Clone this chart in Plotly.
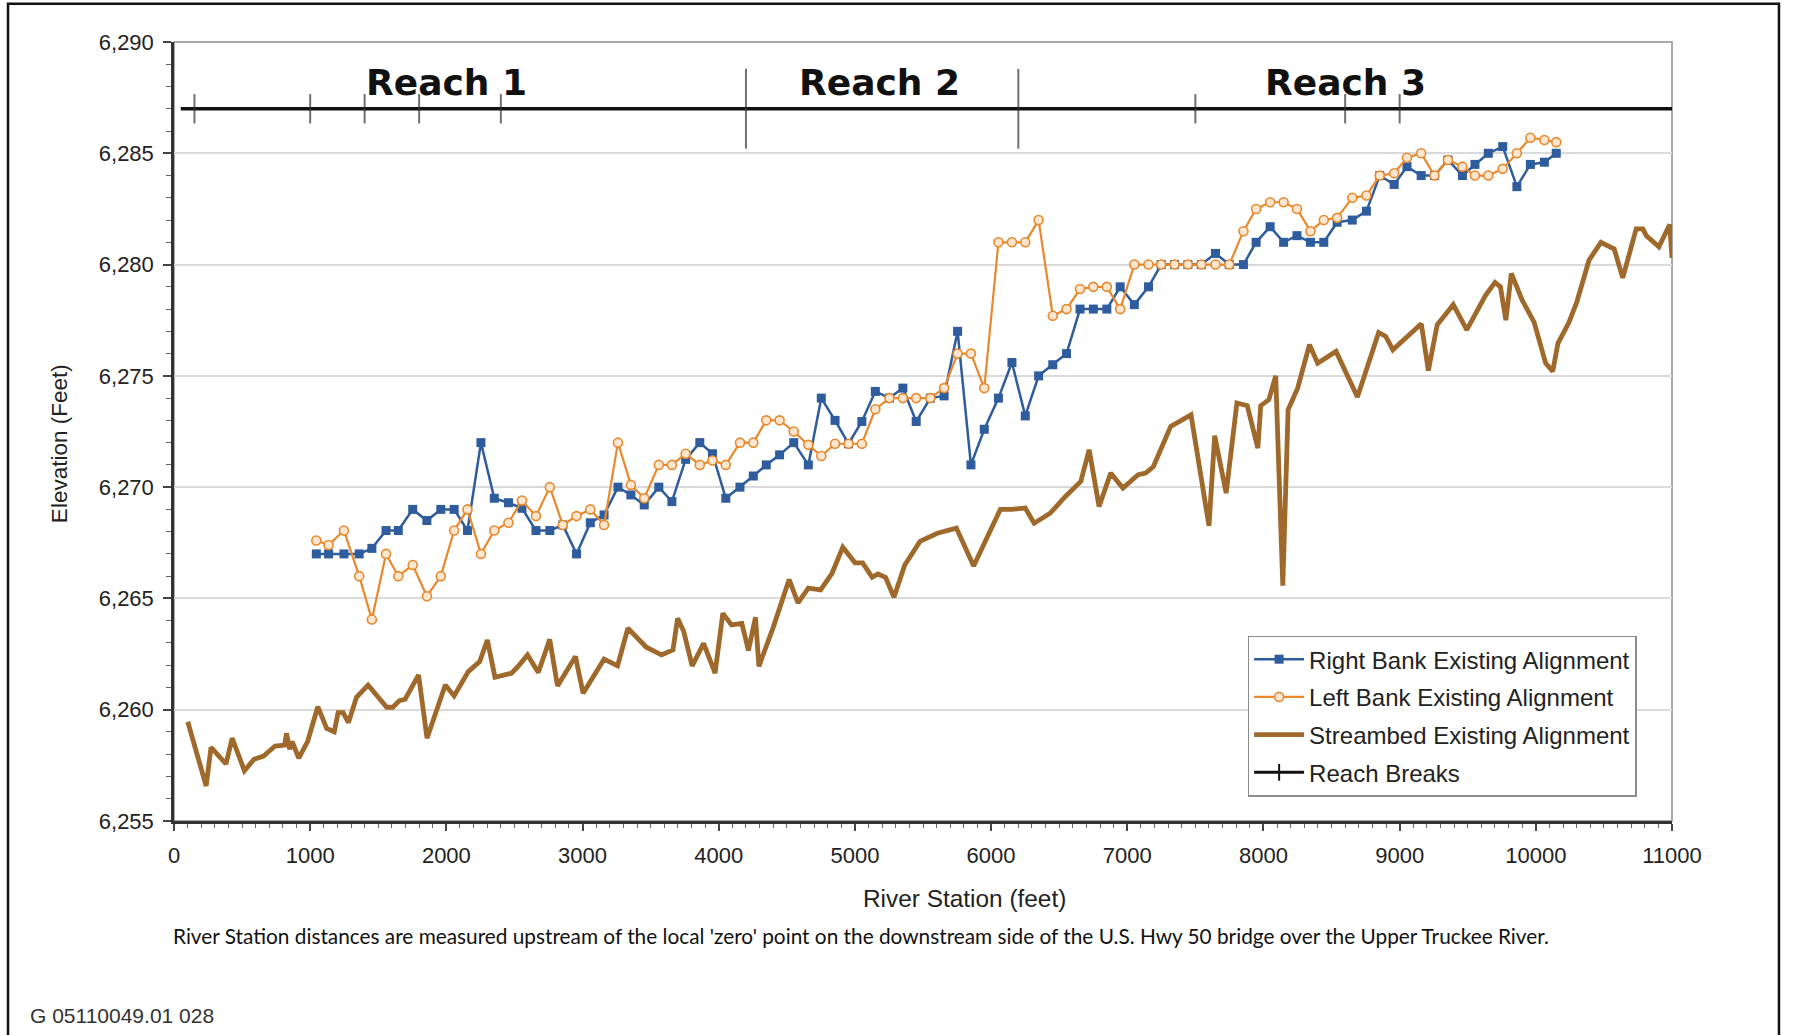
import plotly.graph_objects as go

# River stations (feet) surveyed along both banks
bank_stations = [
    1045, 1135, 1248, 1360, 1453, 1557, 1647, 1753, 1857, 1959,
    2057, 2155, 2254, 2352, 2456, 2555, 2658, 2760, 2855, 2956,
    3057, 3158, 3260, 3355, 3453, 3560, 3656, 3757, 3861, 3954,
    4052, 4156, 4254, 4349, 4447, 4551, 4658, 4753, 4854, 4953,
    5051, 5150, 5254, 5352, 5450, 5554, 5655, 5754, 5852, 5950,
    6054, 6153, 6251, 6349, 6453, 6554, 6653, 6751, 6850, 6948,
    7052, 7156, 7249, 7347, 7445, 7544, 7648, 7749, 7853, 7946,
    8049, 8148, 8246, 8345, 8443, 8541, 8652, 8756, 8854, 8960,
    9054, 9158, 9256, 9355, 9461, 9553, 9651, 9757, 9861, 9960,
    10063, 10150,
]

right_bank = [
    6267.0, 6267.0, 6267.0, 6267.0, 6267.25, 6268.05, 6268.05, 6269.0, 6268.5, 6269.0,
    6269.0, 6268.05, 6272.0, 6269.5, 6269.3, 6269.05, 6268.05, 6268.05, 6268.3, 6267.0,
    6268.4, 6268.75, 6270.0, 6269.65, 6269.2, 6270.0, 6269.35, 6271.25, 6272.0, 6271.5,
    6269.5, 6270.0, 6270.5, 6271.0, 6271.45, 6272.0, 6271.0, 6274.0, 6273.0, 6271.95,
    6272.95, 6274.3, 6274.0, 6274.45, 6272.95, 6274.0, 6274.1, 6277.0, 6271.0, 6272.6,
    6274.0, 6275.6, 6273.2, 6275.0, 6275.5, 6276.0, 6278.0, 6278.0, 6278.0, 6279.0,
    6278.2, 6279.0, 6280.0, 6280.0, 6280.0, 6280.0, 6280.5, 6280.0, 6280.0, 6281.0,
    6281.7, 6281.0, 6281.3, 6281.0, 6281.0, 6281.9, 6282.0, 6282.4, 6284.0, 6283.6,
    6284.4, 6284.0, 6284.0, 6284.7, 6284.0, 6284.5, 6285.0, 6285.3, 6283.5, 6284.5,
    6284.6, 6285.0,
]

left_bank = [
    6267.6, 6267.4, 6268.05, 6266.0, 6264.05, 6267.0, 6266.0, 6266.5, 6265.1, 6266.0,
    6268.05, 6269.0, 6267.0, 6268.05, 6268.4, 6269.4, 6268.7, 6270.0, 6268.3, 6268.7,
    6269.0, 6268.3, 6272.0, 6270.1, 6269.5, 6271.0, 6271.0, 6271.5, 6271.0, 6271.2,
    6271.0, 6272.0, 6272.0, 6273.0, 6273.0, 6272.5, 6271.9, 6271.4, 6271.95, 6271.95,
    6271.95, 6273.5, 6274.0, 6274.0, 6274.0, 6274.0, 6274.45, 6276.0, 6276.0, 6274.45,
    6281.0, 6281.0, 6281.0, 6282.0, 6277.7, 6278.0, 6278.9, 6279.0, 6279.0, 6278.0,
    6280.0, 6280.0, 6280.0, 6280.0, 6280.0, 6280.0, 6280.0, 6280.0, 6281.5, 6282.5,
    6282.8, 6282.8, 6282.5, 6281.5, 6282.0, 6282.1, 6283.0, 6283.1, 6284.0, 6284.1,
    6284.8, 6285.0, 6284.0, 6284.7, 6284.4, 6284.0, 6284.0, 6284.3, 6285.0, 6285.7,
    6285.6, 6285.5,
]

# Streambed thalweg profile
bed_stations = [
    101, 236, 272, 382, 427, 517, 587, 658, 742, 812, 826, 849, 868, 916, 981,
    1056, 1121, 1177, 1205, 1242, 1281, 1340, 1425, 1495, 1562, 1607, 1655, 1697,
    1796, 1858, 1992, 2057, 2161, 2245, 2301, 2357, 2478, 2526, 2596, 2675, 2759,
    2816, 2948, 3004, 3158, 3257, 3333, 3468, 3580, 3664, 3698, 3743, 3805, 3889,
    3973, 4030, 4094, 4170, 4218, 4270, 4295, 4400, 4517, 4582, 4658, 4748, 4832,
    4911, 5001, 5057, 5127, 5169, 5225, 5287, 5366, 5478, 5605, 5745, 5872, 5998,
    6068, 6150, 6251, 6316, 6434, 6546, 6659, 6720, 6793, 6878, 6968, 7080, 7136,
    7192, 7319, 7468, 7600, 7642, 7726, 7805, 7881, 7959, 7980, 8040, 8090, 8142,
    8181, 8251, 8338, 8398, 8533, 8690, 8846, 8898, 8950, 9159, 9211, 9276, 9394,
    9493, 9629, 9700, 9740, 9780, 9820, 9900, 9988, 10072, 10124, 10163, 10241,
    10300, 10391, 10478, 10576, 10638, 10737, 10786, 10811, 10904, 10983, 11000,
]

streambed = [
    6259.46, 6256.57, 6258.31, 6257.56, 6258.72, 6257.26, 6257.77, 6257.92, 6258.37,
    6258.41, 6258.94, 6258.22, 6258.57, 6257.82, 6258.57,
    6260.14, 6259.16, 6259.01, 6259.87, 6259.87, 6259.42, 6260.56, 6261.11, 6260.62,
    6260.11, 6260.11, 6260.41, 6260.47,
    6261.56, 6258.72, 6261.11, 6260.62, 6261.71, 6262.16, 6263.13, 6261.46, 6261.64,
    6261.94, 6262.46, 6261.67, 6263.16,
    6261.07, 6262.39, 6260.74, 6262.27, 6261.97, 6263.66, 6262.81, 6262.46, 6262.69,
    6264.11, 6263.51, 6261.97, 6262.98,
    6261.64, 6264.33, 6263.81, 6263.88, 6262.66, 6264.15, 6261.95, 6263.7, 6265.85,
    6264.8, 6265.46, 6265.38, 6266.13,
    6267.3, 6266.6, 6266.6, 6265.95, 6266.1, 6265.95, 6265.05, 6266.5, 6267.56,
    6267.93, 6268.16, 6266.46, 6268.1,
    6269.0, 6269.0, 6269.06, 6268.38, 6268.83, 6269.58, 6270.26, 6271.68, 6269.13,
    6270.63, 6269.96, 6270.56, 6270.63,
    6270.93, 6272.73, 6273.25, 6268.26, 6272.31, 6269.73, 6273.78, 6273.66, 6271.75,
    6273.66, 6273.93, 6275.0, 6265.57,
    6273.48, 6274.45, 6276.4, 6275.57, 6276.1, 6274.05, 6276.95, 6276.77, 6276.17,
    6277.34, 6275.24, 6277.3, 6278.2,
    6277.07, 6278.6, 6279.2, 6279.0, 6277.5, 6279.6, 6278.4, 6277.4, 6275.57,
    6275.2, 6276.47, 6277.37,
    6278.3, 6280.2, 6281.0, 6280.7, 6279.4, 6281.6, 6281.6, 6281.3, 6280.8,
    6281.8, 6280.3,
]

# Reach break line and its tick marks
reach_line_x = [50, 11000]
reach_line_elev = 6287.0
reach_breaks = [150, 1000, 1400, 1800, 2400, 4200, 6200, 7500, 8600, 9000]
reach_break_major = [False, False, False, False, False, True, True, False, False, False]
reach_names = ["Reach 1", "Reach 2", "Reach 3"]
reach_label_x = [2000, 5180, 8600]
reach_label_elev = 6288.2

x_ticks = list(range(0, 11001, 1000))
x_tick_text = [str(v) for v in x_ticks]
y_ticks = list(range(6255, 6291, 5))

BLUE = "#2E5C9C"
ORANGE = "#E8892E"
BROWN = "#A0692C"
FONT = "Liberation Sans, Arial, sans-serif"

fig = go.Figure()

fig.add_trace(go.Scatter(
    x=bed_stations, y=streambed, mode="lines",
    name="Streambed Existing Alignment", legendgroup="bed",
    line=dict(color=BROWN, width=4.8),
    legendrank=3,
))
fig.add_trace(go.Scatter(
    x=bank_stations, y=right_bank, mode="lines+markers",
    name="Right Bank Existing Alignment", legendgroup="rb",
    line=dict(color=BLUE, width=2.5),
    marker=dict(symbol="square", size=9, color=BLUE),
    legendrank=1,
))
fig.add_trace(go.Scatter(
    x=bank_stations, y=left_bank, mode="lines+markers",
    name="Left Bank Existing Alignment", legendgroup="lb",
    line=dict(color=ORANGE, width=2.2),
    marker=dict(symbol="circle", size=9, color="#FCE6CF",
                line=dict(color=ORANGE, width=1.6)),
    legendrank=2,
))

# reach break baseline
fig.add_trace(go.Scatter(
    x=reach_line_x, y=[reach_line_elev] * len(reach_line_x), mode="lines",
    line=dict(color="#111111", width=3.5), showlegend=False, hoverinfo="skip",
))
fig.add_trace(go.Scatter(
    x=reach_breaks, y=[reach_line_elev] * len(reach_breaks), mode="markers",
    marker=dict(symbol="line-ns", size=[57 if m else 21 for m in reach_break_major],
                line=dict(color="#333333", width=2)),
    showlegend=False, hoverinfo="skip",
))
# legend entry for the reach breaks
fig.add_trace(go.Scatter(
    x=[None], y=[None], mode="lines+markers", name="Reach Breaks", legendgroup="rch",
    line=dict(color="#111111", width=3),
    marker=dict(symbol="line-ns", size=12, line=dict(color="#111111", width=2)),
    legendrank=4,
))

for name, rx in zip(reach_names, reach_label_x):
    fig.add_annotation(x=rx, y=reach_label_elev, text="<b>%s</b>" % name,
                       showarrow=False, xanchor="center", yanchor="middle",
                       font=dict(family="DejaVu Sans, sans-serif", size=36, color="#111111"))

annotations_paper = [
    dict(x=0.5274, y=-0.0989, text="River Station (feet)", xanchor="center",
         yanchor="middle", font=dict(family=FONT, size=24.4, color="#222222")),
    dict(x=-0.0764, y=0.4845, text="Elevation (Feet)", textangle=-90, xanchor="center",
         yanchor="middle", font=dict(family=FONT, size=22.5, color="#222222")),
    dict(x=-0.0017, y=-0.1464,
         text="River Station distances are measured upstream of the local 'zero' point on the "
              "downstream side of the U.S. Hwy 50 bridge over the Upper Truckee River.",
         xanchor="left", yanchor="middle", font=dict(family="Lato, sans-serif", size=20.8, color="#111111")),
    dict(x=-0.0975, y=-0.2491, text="G 05110049.01 028", xanchor="left", yanchor="middle",
         font=dict(family=FONT, size=21, color="#333333")),
]
for a in annotations_paper:
    fig.add_annotation(xref="paper", yref="paper", showarrow=False, **a)

# plot frame and page border
fig.add_shape(type="rect", xref="paper", yref="paper", x0=0, x1=1, y0=0, y1=1,
              line=dict(color="#8C8C8C", width=1.5), layer="below")
fig.add_shape(type="rect", xref="paper", yref="paper", x0=-0.1108, x1=1.0714,
              y0=-0.3, y1=1.049, line=dict(color="#111111", width=2.5), layer="below")

fig.update_layout(
    width=1793, height=1035, autosize=False,
    margin=dict(l=174, r=121, t=42, b=214),
    paper_bgcolor="white", plot_bgcolor="white",
    font=dict(family=FONT, size=22, color="#222222"),
    legend=dict(x=0.7167, y=0.2380, xanchor="left", yanchor="top",
                bgcolor="white", bordercolor="#8C8C8C", borderwidth=1.5,
                font=dict(family=FONT, size=24, color="#222222"),
                tracegroupgap=3.5, itemwidth=50),
    showlegend=True,
)
fig.update_xaxes(
    range=[0, 11000], tickvals=x_ticks, ticktext=x_tick_text, ticks="outside", ticklen=7,
    tickwidth=1.5, tickcolor="#444444", showline=True, linecolor="#333333", linewidth=2.5,
    showgrid=False, zeroline=False, ticklabelstandoff=6,
    minor=dict(dtick=100, ticks="outside", ticklen=4, tickcolor="#666666", tickwidth=1),
    tickfont=dict(family=FONT, size=22, color="#222222"),
)
fig.update_yaxes(
    range=[6255, 6290], tickvals=y_ticks, tickformat=",", ticks="outside", ticklen=8,
    tickwidth=1.5, tickcolor="#444444", showline=True, linecolor="#333333", linewidth=2.5,
    showgrid=True, gridcolor="#DADADA", gridwidth=1.5, zeroline=False, ticklabelstandoff=5,
    minor=dict(dtick=1, ticks="outside", ticklen=5, tickcolor="#666666", tickwidth=1,
               showgrid=False),
    tickfont=dict(family=FONT, size=22, color="#222222"),
)

fig.write_html("out.html")
